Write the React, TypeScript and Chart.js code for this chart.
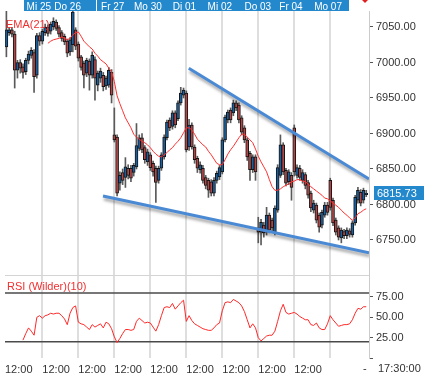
import React, { useEffect, useRef } from 'react';
import { Chart, registerables } from 'chart.js';
Chart.register(...registerables);

const FONT = '"Liberation Sans", Arial, sans-serif';

// ---- Candles (hourly), index 0..130 ----
const opens = [
  7022, 7042, 7046, 7040, 6989, 7000, 6994, 6987, 7003, 7010,
  7014, 6982, 7038, 7030, 7042, 7050, 7044, 7050, 7057, 7049,
  7042, 7037, 7030, 7015, 7025, 7046, 7026, 7008, 6999, 6985,
  7002, 6982, 7004, 6968, 6978, 6982, 6967, 6968, 6986, 6898,
  6895, 6830, 6845, 6838, 6851, 6851, 6845, 6853, 6879, 6894,
  6880, 6860, 6870, 6858, 6851, 6834, 6851, 6867, 6894, 6919,
  6910, 6929, 6921, 6943, 6954, 6957, 6881, 6912, 6881, 6865,
  6849, 6851, 6838, 6834, 6832, 6816, 6834, 6839, 6846, 6891,
  6919, 6933, 6929, 6943, 6940, 6922, 6908, 6891, 6872, 6849,
  6867, 6767, 6761, 6771, 6761, 6785, 6778, 6761, 6792, 6841,
  6884, 6848, 6832, 6841, 6908, 6841, 6851, 6834, 6842, 6831,
  6816, 6792, 6799, 6785, 6771, 6785, 6799, 6834, 6806, 6778,
  6767, 6753, 6762, 6756, 6763, 6757, 6774, 6806, 6817, 6806,
  6814,
];
const highs = [
  7072, 7049, 7049, 7044, 7003, 7004, 6998, 7006, 7016, 7021,
  7018, 7041, 7042, 7047, 7054, 7053, 7057, 7063, 7060, 7052,
  7045, 7040, 7033, 7035, 7074, 7049, 7029, 7010, 7002, 7006,
  7005, 7015, 7008, 6988, 6992, 6986, 6981, 6993, 6990, 6936,
  6898, 6846, 6850, 6866, 6856, 6855, 6858, 6914, 6898, 6900,
  6883, 6878, 6873, 6861, 6854, 6854, 6873, 6898, 6919, 6922,
  6932, 6932, 6946, 6965, 6964, 6960, 6920, 6915, 6884, 6868,
  6860, 6855, 6841, 6837, 6835, 6838, 6847, 6855, 6894, 6926,
  6933, 6936, 6947, 6946, 6943, 6925, 6911, 6894, 6875, 6870,
  6870, 6782, 6779, 6775, 6796, 6788, 6781, 6798, 6856, 6898,
  6887, 6851, 6849, 6845, 6912, 6856, 6855, 6849, 6845, 6834,
  6819, 6806, 6802, 6788, 6792, 6803, 6803, 6837, 6809, 6781,
  6770, 6767, 6765, 6767, 6766, 6777, 6813, 6824, 6821, 6823,
  6820,
];
const lows = [
  7008, 7038, 7036, 6964, 6978, 6985, 6978, 6983, 6998, 7006,
  6958, 6978, 7024, 7026, 7038, 7037, 7040, 7046, 7045, 7036,
  7030, 7025, 7008, 7010, 7015, 7018, 7002, 6989, 6964, 6980,
  6961, 6978, 6947, 6960, 6972, 6960, 6962, 6965, 6943, 6888,
  6812, 6820, 6828, 6824, 6836, 6832, 6840, 6850, 6876, 6873,
  6858, 6855, 6848, 6840, 6803, 6830, 6848, 6864, 6891, 6904,
  6906, 6908, 6918, 6940, 6950, 6874, 6876, 6878, 6858, 6845,
  6844, 6830, 6822, 6810, 6812, 6812, 6830, 6835, 6843, 6888,
  6915, 6915, 6925, 6932, 6915, 6898, 6887, 6862, 6834, 6845,
  6834, 6746, 6743, 6754, 6757, 6760, 6763, 6757, 6789, 6838,
  6842, 6826, 6828, 6806, 6840, 6837, 6834, 6830, 6822, 6809,
  6790, 6788, 6774, 6761, 6767, 6782, 6785, 6792, 6770, 6757,
  6750, 6746, 6752, 6752, 6754, 6754, 6771, 6802, 6798, 6802,
  6811,
];
const closes = [
  7046, 7046, 7040, 6989, 7000, 6992, 6986, 7003, 7012, 7017,
  6980, 7038, 7030, 7044, 7050, 7041, 7054, 7058, 7048, 7040,
  7034, 7029, 7013, 7032, 7071, 7023, 7006, 6993, 6982, 7003,
  6982, 7010, 6978, 6985, 6988, 6966, 6978, 6989, 6954, 6891,
  6816, 6841, 6834, 6853, 6841, 6837, 6855, 6883, 6894, 6877,
  6863, 6874, 6852, 6846, 6831, 6851, 6870, 6895, 6916, 6908,
  6929, 6912, 6943, 6957, 6961, 6877, 6912, 6881, 6863, 6851,
  6856, 6834, 6827, 6820, 6816, 6834, 6844, 6852, 6891, 6923,
  6930, 6919, 6943, 6936, 6919, 6902, 6891, 6867, 6849, 6867,
  6846, 6761, 6775, 6760, 6785, 6764, 6767, 6795, 6852, 6884,
  6846, 6830, 6846, 6824, 6846, 6852, 6838, 6845, 6827, 6813,
  6795, 6802, 6778, 6768, 6789, 6799, 6789, 6796, 6774, 6761,
  6754, 6764, 6756, 6764, 6758, 6774, 6810, 6820, 6802, 6820,
  6815.73,
];

// ---- EMA(21) (starts at index 15) ----
const emaStart = 15;
const emaValues = [
  7027, 7030, 7032, 7033, 7034,
  7036, 7034, 7032, 7034, 7039, 7042, 7043, 7037, 7030, 7026,
  7022, 7019, 7013, 7009, 7004, 7001, 6998, 6992, 6987, 6973,
  6953, 6942, 6932, 6922, 6915, 6908, 6899, 6895, 6892, 6889,
  6887, 6884, 6880, 6875, 6871, 6868, 6867, 6870, 6873, 6877,
  6880, 6885, 6889, 6894, 6901, 6908, 6908, 6905, 6899, 6892,
  6888, 6884, 6881, 6875, 6870, 6864, 6858, 6856, 6856, 6863,
  6871, 6877, 6882, 6888, 6894, 6899, 6899, 6895, 6891, 6887,
  6878, 6868, 6860, 6853, 6846, 6835, 6825, 6820, 6820, 6822,
  6825, 6827, 6829, 6832, 6833, 6835, 6835, 6833, 6832, 6829,
  6825, 6822, 6819, 6816, 6813, 6809, 6808, 6805, 6802, 6799,
  6796, 6792, 6788, 6785, 6781, 6778, 6781, 6787, 6789, 6792,
  6794,
];

// ---- RSI (Wilder)(10) (starts at index 6) ----
const rsiStart = 6;
const rsiValues = [
  22, 30, 37, 33,
  28, 50, 52, 49, 52, 53, 55, 54, 55, 55,
  52, 48, 41, 55, 62, 64, 44, 42, 41, 38,
  35, 41, 38, 40, 42, 37, 44, 42, 36, 26,
  19, 24, 30, 35, 35, 34, 35, 45, 49, 46,
  43, 44, 43, 38, 33, 41, 52, 62, 63, 62,
  67, 60, 64, 68, 71, 45, 52, 46, 42, 40,
  38, 36, 35, 34, 34, 37, 41, 43, 58, 68,
  69, 68, 72, 70, 68, 64, 57, 47, 37, 42,
  37, 25, 21, 24, 27, 28, 28, 33, 45, 58,
  66, 56, 54, 55, 56, 54, 51, 49, 47, 47,
  41, 40, 43, 37, 35, 35, 42, 52, 47, 43,
  39, 40, 41, 41, 42, 47, 55, 61, 60, 63,
  63,
];
const rsiLevels = [80, 20];

// ---- Trend lines (index, price) ----
const upperTrend = [
  { x: 65.9, y: 6992 },
  { x: 131, y: 6836 },
];
const lowerTrend = [
  { x: 34.9, y: 6812 },
  { x: 131, y: 6732 },
];

// ---- Axis ticks / labels ----
const priceTicks = [6750, 6800, 6850, 6900, 6950, 7000, 7050];
const rsiTicks = [0, 25, 50, 75];
const rsiLabelled = [25, 50, 75];
const dayGridTicks = [-0.5, 13, 26, 39, 52, 65, 78, 91, 104, 117];
const timeLabel = '12:00';
const unlabelledTicks = [117];
const dayNames = ['Mi 25', 'Do 26', 'Fr 27', 'Mo 30', 'Di 01', 'Mi 02', 'Do 03', 'Fr 04', 'Mo 07'];
const dayNamePos = [7.3, 17.3, 34.2, 46.1, 60.1, 72.7, 86.0, 98.6, 111.2];
const dateBands = [
  [6.5, 32.4],
  [32.6, 84.6],
  [84.8, 123.8],
];
const lastTimeLabel = '17:30:00';

const UP = '#1b5f9e';
const DOWN = '#b04646';
const TAG_BLUE = '#2388cc';

const shadowPlugin = {
  id: 'trendShadow',
  beforeDatasetDraw(chart: any, args: any) {
    const ds = chart.data.datasets[args.index];
    if (ds && ds.shadow) {
      const c = chart.ctx;
      c.save();
      c.shadowColor = 'rgba(0,0,0,0.35)';
      c.shadowBlur = 3;
      c.shadowOffsetX = 1;
      c.shadowOffsetY = 3;
    }
  },
  afterDatasetDraw(chart: any, args: any) {
    const ds = chart.data.datasets[args.index];
    if (ds && ds.shadow) chart.ctx.restore();
  },
};

const decorPlugin = {
  id: 'decor',
  beforeDatasetsDraw(chart: any) {
    const { ctx, chartArea: a, scales } = chart;
    const yR = scales.yR;
    ctx.save();
    ctx.strokeStyle = '#d4d4d4';
    ctx.lineWidth = 1;
    const sy = Math.round(yR.top) + 0.5;
    ctx.beginPath();
    ctx.moveTo(a.left, sy);
    ctx.lineTo(a.right, sy);
    ctx.stroke();
    ctx.strokeStyle = '#4a4a4a';
    ctx.lineWidth = 1.5;
    rsiLevels.forEach((v) => {
      const y = yR.getPixelForValue(v);
      ctx.beginPath();
      ctx.moveTo(a.left, y);
      ctx.lineTo(a.right, y);
      ctx.stroke();
    });
    ctx.restore();
  },
  afterDraw(chart: any) {
    const { ctx, chartArea: a, scales } = chart;
    const x = scales.x;
    const y = scales.y;
    const yR = scales.yR;
    ctx.save();
    // date band at top
    ctx.fillStyle = TAG_BLUE;
    dateBands.forEach(([s, e]) => {
      const x0 = Math.round(x.getPixelForValue(s));
      const x1 = Math.round(x.getPixelForValue(e));
      ctx.fillRect(x0, 0, x1 - x0, 11);
    });
    ctx.fillStyle = '#ffffff';
    ctx.font = `10px ${FONT}`;
    ctx.textBaseline = 'alphabetic';
    ctx.textAlign = 'left';
    dayNames.forEach((t, i) => {
      ctx.fillText(t, x.getPixelForValue(dayNamePos[i]), 10);
    });
    // small red marker top right
    ctx.fillStyle = '#e02020';
    ctx.beginPath();
    ctx.moveTo(a.right - 7, 0);
    ctx.lineTo(a.right - 1, 0);
    ctx.lineTo(a.right - 4, 3);
    ctx.closePath();
    ctx.fill();
    // indicator labels
    ctx.font = `11px ${FONT}`;
    ctx.fillStyle = '#f03030';
    ctx.fillText('EMA(21)', a.left + 1, 28);
    ctx.fillText('RSI (Wilder)(10)', a.left + 2, yR.top + 15);
    // last price tag
    const last = closes[closes.length - 1];
    const py = y.getPixelForValue(last);
    ctx.fillStyle = TAG_BLUE;
    ctx.fillRect(a.right + 5, Math.round(py) - 7, 50, 14);
    ctx.fillStyle = '#ffffff';
    ctx.textBaseline = 'middle';
    ctx.fillText(last.toFixed(2), a.right + 8, Math.round(py) + 0.5);
    // bottom right time
    ctx.fillStyle = '#333333';
    ctx.fillText('-', a.right - 6, 369);
    ctx.fillText(lastTimeLabel, a.right + 9, 369);
    ctx.restore();
  },
};

export default function App() {
  const ref = useRef<HTMLCanvasElement>(null);
  useEffect(() => {
    const canvas = ref.current!;
    const bodies = opens.map((o, i) => ({ x: i, y: [o, closes[i]] }));
    const wicks = lows.map((l, i) => ({ x: i, y: [l, highs[i]] }));
    const bodyColors = opens.map((o, i) => (closes[i] >= o ? UP : DOWN));
    const ema = emaValues.map((v, k) => ({ x: emaStart + k, y: v }));
    const rsi = rsiValues.map((v, k) => ({ x: rsiStart + k, y: v }));

    const chart = new Chart(canvas, {
      type: 'bar',
      data: {
        datasets: [
          {
            type: 'bar',
            data: wicks as any,
            yAxisID: 'y',
            grouped: false,
            barThickness: 1,
            backgroundColor: '#5a5a5a',
            borderWidth: 0,
            order: 6,
          } as any,
          {
            type: 'bar',
            data: bodies as any,
            yAxisID: 'y',
            grouped: false,
            barThickness: 3,
            backgroundColor: bodyColors,
            borderColor: '#151515',
            borderWidth: 1,
            borderSkipped: false,
            order: 5,
          } as any,
          {
            type: 'line',
            data: ema as any,
            yAxisID: 'y',
            borderColor: '#ff3030',
            borderWidth: 1,
            pointRadius: 0,
            tension: 0,
            order: 4,
          } as any,
          {
            type: 'line',
            data: upperTrend as any,
            yAxisID: 'y',
            borderColor: '#4a89d4',
            borderWidth: 3,
            pointRadius: 0,
            shadow: true,
            order: 3,
          } as any,
          {
            type: 'line',
            data: lowerTrend as any,
            yAxisID: 'y',
            borderColor: '#4a89d4',
            borderWidth: 3,
            pointRadius: 0,
            shadow: true,
            order: 2,
          } as any,
          {
            type: 'line',
            data: rsi as any,
            yAxisID: 'yR',
            borderColor: '#ff2828',
            borderWidth: 1,
            pointRadius: 0,
            tension: 0,
            order: 1,
          } as any,
        ],
      },
      options: {
        animation: false,
        responsive: false,
        devicePixelRatio: 1,
        layout: { padding: { top: 11, left: 3, right: 0, bottom: 0 } },
        plugins: { legend: { display: false }, tooltip: { enabled: false } },
        scales: {
          x: {
            type: 'linear',
            min: -0.5,
            max: 131,
            offset: false,
            afterBuildTicks: (s: any) => {
              s.ticks = dayGridTicks.map((v) => ({ value: v }));
            },
            grid: {
              offset: false,
              drawTicks: false,
              lineWidth: 2,
              color: (c: any) => (c.tick && c.tick.value < 0 ? 'rgba(0,0,0,0)' : '#dedede'),
            },
            border: { display: false },
            ticks: {
              autoSkip: false,
              maxRotation: 0,
              align: 'start',
              padding: 5,
              color: '#333',
              font: { size: 11, family: FONT },
              callback: (v: any) => (unlabelledTicks.includes(Number(v)) ? '' : timeLabel),
            },
            afterFit: (s: any) => {
              s.height = 17;
            },
          },
          y: {
            type: 'linear',
            position: 'right',
            stack: 'right',
            stackWeight: 264,
            min: 6700.7,
            max: 7072.5,
            afterBuildTicks: (s: any) => {
              s.ticks = priceTicks.map((v) => ({ value: v }));
            },
            grid: { drawOnChartArea: false, drawTicks: true, tickLength: 4, tickColor: '#555' },
            border: { color: '#cccccc' },
            ticks: {
              autoSkip: false,
              padding: 3,
              color: '#333',
              font: { size: 11, family: FONT },
              callback: (v: any) => Number(v).toFixed(2),
            },
            afterFit: (s: any) => {
              s.width = 56;
            },
          },
          yR: {
            type: 'linear',
            position: 'right',
            stack: 'right',
            stackWeight: 83,
            min: 0,
            max: 102,
            afterBuildTicks: (s: any) => {
              s.ticks = rsiTicks.map((v) => ({ value: v }));
            },
            grid: { drawOnChartArea: false, drawTicks: true, tickLength: 4, tickColor: '#555' },
            border: { color: '#cccccc' },
            ticks: {
              autoSkip: false,
              padding: 3,
              color: '#333',
              font: { size: 11, family: FONT },
              callback: (v: any) => (rsiLabelled.includes(Number(v)) ? Number(v).toFixed(2) : ''),
            },
            afterFit: (s: any) => {
              s.width = 56;
            },
          },
        } as any,
      },
      plugins: [shadowPlugin, decorPlugin],
    });
    return () => chart.destroy();
  }, []);

  return (
    <div style={{ position: 'fixed', left: 0, top: 0, width: 425, height: 375, background: '#ffffff' }}>
      <canvas ref={ref} width={425} height={375} style={{ display: 'block' }} />
    </div>
  );
}
